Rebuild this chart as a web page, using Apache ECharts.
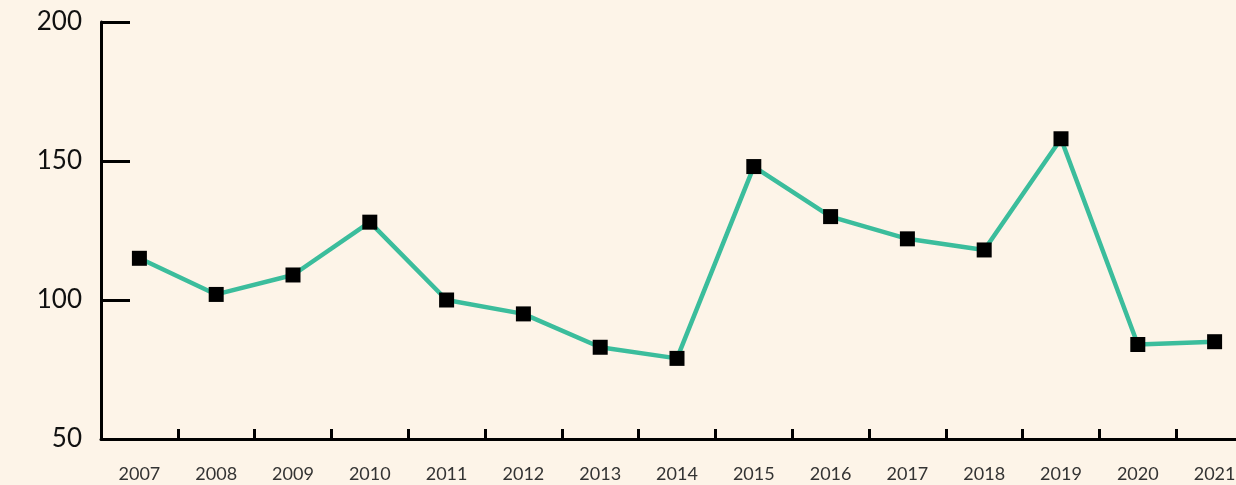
<!DOCTYPE html>
<html><head><meta charset="utf-8">
<script src="https://cdn.jsdelivr.net/npm/echarts@6/dist/echarts.min.js"></script>
<style>html,body{margin:0;padding:0;background:#fdf4e8;}#c{width:1236px;height:485px;}</style>
</head><body><div id="c"></div>
<script>
const years = ['2007','2008','2009','2010','2011','2012','2013','2014','2015','2016','2017','2018','2019','2020','2021'];
const values = [115,102,109,128,100,95,83,79,148,130,122,118,158,84,85];
const yTicks = [50,100,150,200];

const chart = echarts.init(document.getElementById('c'));
chart.setOption({
  backgroundColor: '#fdf4e8',
  animation: false,
  grid: { left: 101, top: 22, width: 1152, height: 417, containLabel: false, outerBoundsMode: 'none' },
  xAxis: {
    type: 'category', data: years, boundaryGap: true,
    axisLine: { lineStyle: { color: '#000', width: 3 } },
    axisTick: { show: true, inside: true, length: 10, interval: 0, lineStyle: { color: '#000', width: 3 } },
    axisLabel: { margin: 26, fontSize: 18, color: '#333', fontFamily: 'Lato', interval: 0 }
  },
  yAxis: {
    type: 'value', min: yTicks[0], max: yTicks[yTicks.length-1], interval: 50,
    axisLine: { show: true, lineStyle: { color: '#000', width: 3 } },
    axisTick: { show: true, inside: true, length: 29, lineStyle: { color: '#000', width: 3 } },
    splitLine: { show: false },
    axisLabel: { margin: 19, fontSize: 26, color: '#111', fontFamily: 'Lato' }
  },
  series: [{
    type: 'line', data: values,
    lineStyle: { color: '#3bbd9c', width: 4.5 },
    symbol: 'rect', symbolSize: 15,
    itemStyle: { color: '#000' }
  }]
});
</script></body></html>
